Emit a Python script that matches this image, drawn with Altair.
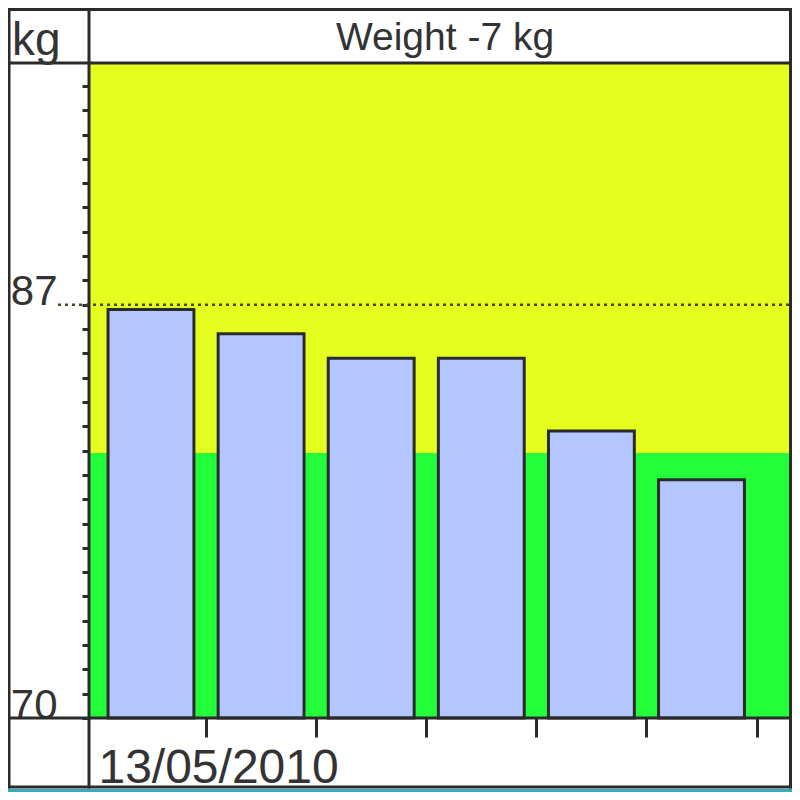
import altair as alt
import pandas as pd

# ---- data ----
slots = [0, 1, 2, 3, 4, 5]
weights = [86.8, 85.8, 84.8, 84.8, 81.8, 79.8]
x_tick_values = [-0.5, 0.5, 1.5, 2.5, 3.5, 4.5, 5.5]
x_label_values = [-0.5]
x_label_texts = ["13/05/2010"]
y_tick_values = list(range(70, 97))
y_label_values = [70, 87]
y_label_texts = ["70", "87"]
zone_lows = [70.0, 80.9]
zone_highs = [80.9, 96.9]
zone_colors = ["#22ff3a", "#e4ff1f"]
reference_values = [87.0]
title_text = ["Weight -7 kg"]
unit_text = ["kg"]
y_domain = [70.0, 96.9]
x_domain = [-0.554, 5.813]

# ---- styling ----
W, H = 701, 654
FONT = "Liberation Sans"
ink = "#2b2b2b"
text_color = "#333333"
bar_fill = "#b3c6ff"

bar_df = pd.DataFrame({"slot": slots, "weight": weights})
bar_df["base"] = y_domain[0]
zone_df = pd.DataFrame({"lo": zone_lows, "hi": zone_highs, "color": zone_colors})
ref_df = pd.DataFrame({"v": reference_values})
one = pd.DataFrame({"k": [0]})


def label_expr(values, texts):
    expr = "''"
    for v, t in zip(reversed(values), reversed(texts)):
        expr = f"datum.value == {v} ? '{t}' : ({expr})"
    return expr


x_scale = alt.Scale(domain=x_domain, nice=False, zero=False)
y_scale = alt.Scale(domain=y_domain, nice=False, zero=False)

x_axis = alt.Axis(
    values=x_tick_values,
    labelExpr=label_expr(x_label_values, x_label_texts),
    title=None, domain=False, grid=False,
    tickSize=19, tickWidth=3, tickColor=ink,
    tickOpacity={"condition": {"test": "datum.value < 0", "value": 0}, "value": 1},
    labelFont=FONT, labelFontSize=48, labelColor=text_color,
    labelAlign="left", labelBaseline="alphabetic", labelPadding=45,
    labelOverlap=False, labelFlush=False, labelBound=False, labelOffset=2,
    labelLimit=0,
)
y_axis = alt.Axis(
    values=y_tick_values,
    labelExpr=label_expr(y_label_values, y_label_texts),
    title=None, domain=False, grid=False,
    tickSize=8, tickWidth=3, tickColor=ink,
    labelFont=FONT, labelFontSize=42, labelColor=text_color,
    labelAlign="right", labelBaseline="alphabetic", labelPadding=25,
    labelOverlap=False, labelFlush=False, labelBound=False, labelLimit=0,
)

zones = alt.Chart(zone_df).mark_rect().encode(
    y=alt.Y("lo:Q", scale=y_scale, axis=y_axis),
    y2="hi:Q",
    x=alt.value(0),
    x2=alt.value(W),
    color=alt.Color("color:N", scale=None),
)

ref_line = alt.Chart(ref_df).mark_rule(
    color="#4a4a20", strokeWidth=2.5, strokeDash=[3, 4]
).encode(
    y=alt.Y("v:Q", scale=y_scale, axis=y_axis),
    x=alt.value(-32),
    x2=alt.value(W),
)

bars = alt.Chart(bar_df).transform_calculate(
    x0="datum.slot - 0.39", x1="datum.slot + 0.39"
).mark_bar(fill=bar_fill, stroke=ink, strokeWidth=3).encode(
    x=alt.X("x0:Q", scale=x_scale, axis=x_axis),
    x2="x1:Q",
    y=alt.Y("weight:Q", scale=y_scale, axis=y_axis),
    y2="base:Q",
)


def hline(y, xa, xb, color=ink, w=3):
    return alt.Chart(one).mark_rule(color=color, strokeWidth=w).encode(
        y=alt.value(y), x=alt.value(xa), x2=alt.value(xb)
    )


def vline(x, ya, yb, color=ink, w=3):
    return alt.Chart(one).mark_rule(color=color, strokeWidth=w).encode(
        x=alt.value(x), y=alt.value(ya), y2=alt.value(yb)
    )


frame = [
    hline(-54.5, -82, W + 1),          # top border
    hline(-1, -82, W + 1),             # header bottom
    hline(654, -82, W + 1),            # x axis line
    hline(723, -82, W + 1),            # bottom border
    hline(726.5, -82, W + 2, "#3caabe", 3),  # teal bottom edge
    vline(-81, -56, 724.5),            # left border
    vline(-1, -56, 724.5),             # divider / y axis line
    vline(W - 0.5, -56, 724.5),        # right border
]

title = alt.Chart(pd.DataFrame({"t": title_text})).mark_text(
    font=FONT, fontSize=39, color=text_color, align="center", baseline="alphabetic"
).encode(text="t:N", x=alt.value(355), y=alt.value(-14))

unit = alt.Chart(pd.DataFrame({"t": unit_text})).mark_text(
    font=FONT, fontSize=46, color=text_color, align="left", baseline="alphabetic"
).encode(text="t:N", x=alt.value(-78), y=alt.value(-9))

chart = alt.layer(zones, ref_line, bars, *frame, title, unit).properties(
    width=W, height=H,
    autosize=alt.AutoSizeParams(type="none"),
    padding={"left": 82, "top": 56, "right": 1, "bottom": 74},
).configure_view(stroke=None).configure(background="white")

chart.save("out.html", embed_options={"renderer": "svg", "actions": False})
